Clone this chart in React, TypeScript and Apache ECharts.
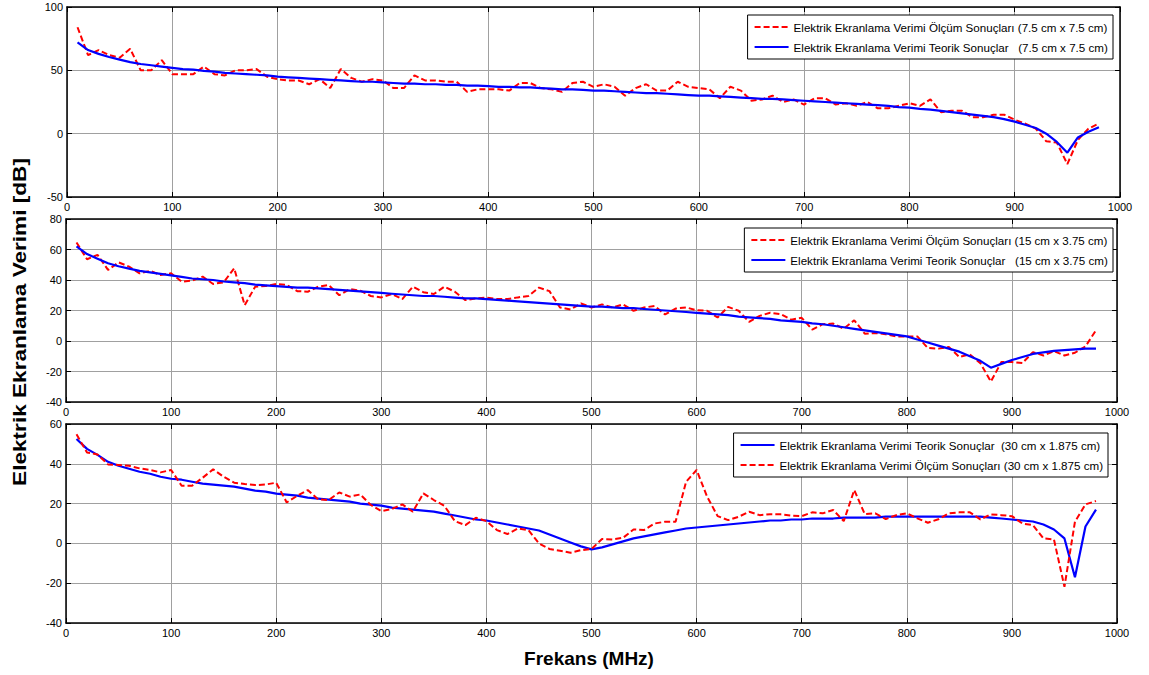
import React, { useEffect, useRef } from "react";
import * as echarts from "echarts";

const FREQ = [10, 20, 30, 40, 50, 60, 70, 80, 90, 100, 110, 120, 130, 140, 150, 160, 170, 180, 190, 200, 210, 220, 230, 240, 250, 260, 270, 280, 290, 300, 310, 320, 330, 340, 350, 360, 370, 380, 390, 400, 410, 420, 430, 440, 450, 460, 470, 480, 490, 500, 510, 520, 530, 540, 550, 560, 570, 580, 590, 600, 610, 620, 630, 640, 650, 660, 670, 680, 690, 700, 710, 720, 730, 740, 750, 760, 770, 780, 790, 800, 810, 820, 830, 840, 850, 860, 870, 880, 890, 900, 910, 920, 930, 940, 950, 960, 970, 980];

const X_TICKS = [0, 100, 200, 300, 400, 500, 600, 700, 800, 900, 1000];

// Panel 1: 7.5 cm x 7.5 cm
const MEAS_1 = [84, 62, 66, 62, 60, 67, 50, 50, 58, 47, 47, 47, 53, 47, 46, 50, 50, 51, 45, 43, 42, 42, 39, 43, 36, 51, 44, 41, 43, 42, 36, 36, 46, 42, 42, 41, 41, 33, 35, 35, 35, 34, 40, 40, 36, 35, 33, 40, 41, 37, 39, 37, 30, 36, 39, 34, 34, 41, 37, 36, 35, 28, 37, 34, 26, 27, 30, 25, 27, 23, 28, 28, 23, 24, 22, 25, 20, 20, 22, 24, 22, 27, 17, 18, 18, 13, 13, 15, 15, 11, 8, 4, -6, -7, -24, -5, 4, 8];
const THEO_1 = [72, 66, 63, 60.5, 58.5, 56.5, 55, 54, 53, 52, 51, 50.5, 49.5, 49, 48, 47.5, 47, 46.5, 46, 45, 44.5, 44, 43.5, 43, 42.5, 42, 41.5, 41, 41, 40.5, 40, 39.5, 39.5, 39, 39, 38.5, 38.5, 38, 38, 37.5, 37, 37, 36.5, 36.5, 36, 35.5, 35, 35, 34.5, 34, 34, 33.5, 33, 32.5, 32, 32, 31.5, 31, 30.5, 30, 30, 29.5, 29, 28.5, 28, 27.5, 27.5, 27, 26.5, 26, 25.5, 25, 24.5, 24, 23.5, 23, 22.5, 22, 21, 20.5, 19.5, 19, 18, 17, 16, 15, 14, 13, 11.5, 9.5, 7, 4.5, 0, -6.5, -15, -3, 1.5, 5];

// Panel 2: 15 cm x 3.75 cm
const MEAS_2 = [64.6, 53.6, 56.5, 46.6, 51.6, 48.8, 44.4, 46, 43.3, 44.4, 38.9, 39.6, 42.2, 37.4, 38.5, 47.7, 23.5, 35.6, 36, 37.4, 36.7, 32.7, 32.3, 35.6, 36.7, 30, 34, 33, 29.5, 28.6, 30.8, 27.5, 35.6, 32, 30.8, 35.6, 32.3, 26.8, 27.9, 28.4, 27.5, 27.5, 28.6, 29.5, 35, 32.7, 22, 20.7, 24.6, 22, 24, 22, 24, 19.8, 22, 22.9, 17.4, 21.3, 22, 20.2, 19.8, 15.4, 22.4, 19.8, 12.5, 16.5, 18.5, 17.6, 14, 15.2, 7.5, 11, 11.4, 8.1, 13.6, 4.8, 5.3, 4.4, 3, 3, 3, -4.6, -5, -4, -10.5, -8.8, -14.5, -26.6, -13.8, -13.8, -14.5, -7.3, -9.5, -6.6, -9.5, -7.7, -3.5, 7];
const THEO_2 = [62, 57, 54, 51, 49, 47.5, 46, 45, 44, 43, 42, 41, 40.5, 40, 39, 38.5, 38, 37, 36.5, 36, 35.5, 35, 35, 34.5, 34, 33.5, 33, 32.5, 32, 31.5, 31, 30.5, 30, 29.5, 29.5, 29, 28.5, 28, 28, 27.5, 27, 26.5, 26, 25.5, 25, 24.5, 24, 23.5, 23, 22.5, 22.5, 22, 21.5, 21.5, 21, 20.5, 20, 19.5, 19, 18.5, 18, 17.5, 17, 16, 15.5, 15, 14.5, 13.5, 13, 12.5, 11.5, 11, 10, 9, 8, 7, 6, 5, 4, 3, 1, -1, -3, -5, -7, -10, -13, -17.5, -15, -12.5, -10.5, -8.5, -7.5, -6.5, -6, -5.5, -5, -5];

// Panel 3: 30 cm x 1.875 cm
const THEO_3 = [52.5, 47.5, 44.5, 41, 39, 37.5, 36, 35, 33.5, 32.5, 32, 31, 30, 29.5, 29, 28.5, 27.5, 26.5, 26, 25, 24.5, 24, 23, 22.5, 22, 21.5, 21, 20, 19.5, 19, 18, 17.5, 17, 16.5, 16, 15, 14, 13, 12, 11.5, 10.5, 9.5, 8.5, 7.5, 6.5, 4.5, 2.5, 0.5, -1.5, -3, -2, -0.5, 1, 2.5, 3.5, 4.5, 5.5, 6.5, 7.5, 8, 8.5, 9, 9.5, 10, 10.5, 11, 11.5, 11.5, 12, 12, 12.5, 12.5, 12.5, 13, 13, 13, 13, 13.5, 13.5, 13.5, 13.5, 13.5, 13.5, 13.5, 13.5, 13.5, 13.5, 13, 12.5, 12, 11.5, 11, 9.5, 7, 2.5, -17, 8.5, 17];
const MEAS_3 = [54.8, 45.7, 44.7, 39.7, 39.4, 39, 37.7, 36.9, 35.7, 36.9, 29, 29, 33, 37.2, 33.5, 30.5, 29.8, 29.3, 29.6, 30.5, 20.6, 23.9, 26.8, 22.1, 21.8, 25.6, 23.5, 24.6, 19.3, 16.2, 17.3, 19.6, 15.9, 25.1, 21.8, 18.9, 11.2, 9.2, 12.9, 11.2, 6.7, 4.7, 7.5, 6.7, 0, -2.8, -3.7, -4.7, -3.4, -2.8, 2.2, 2, 2.8, 7, 6.7, 10, 10.9, 10.9, 31, 36.9, 23.5, 13.7, 11.7, 13.4, 15.9, 14.2, 14.7, 14.6, 14, 13.7, 15.6, 15.1, 16.8, 11.2, 26.8, 14.7, 15.1, 12.2, 14.2, 15.1, 12.6, 10.4, 12.1, 15.1, 15.6, 15.6, 12.1, 14.6, 14.2, 13.7, 10, 9.2, 2.5, 2, -21.8, 10.9, 19.6, 21.3];

const NAMES_1 = [
  "Elektrik Ekranlama Verimi Ölçüm Sonuçları (7.5 cm x 7.5 cm)",
  "Elektrik Ekranlama Verimi Teorik Sonuçlar   (7.5 cm x 7.5 cm)",
];
const NAMES_2 = [
  "Elektrik Ekranlama Verimi Ölçüm Sonuçları (15 cm x 3.75 cm)",
  "Elektrik Ekranlama Verimi Teorik Sonuçlar   (15 cm x 3.75 cm)",
];
const NAMES_3 = [
  "Elektrik Ekranlama Verimi Teorik Sonuçlar  (30 cm x 1.875 cm)",
  "Elektrik Ekranlama Verimi Ölçüm Sonuçları (30 cm x 1.875 cm)",
];

const Y_RANGES = [
  { min: -50, max: 100, interval: 50 },
  { min: -40, max: 80, interval: 20 },
  { min: -40, max: 60, interval: 20 },
];

const Y_TITLE = "Elektrik Ekranlama Verimi [dB]";
const X_TITLE = "Frekans (MHz)";

const FONT = '"Liberation Sans", Arial, Helvetica, sans-serif';

export default function App() {
  const ref = useRef<HTMLDivElement>(null);

  useEffect(() => {
    if (!ref.current) return;
    const chart = echarts.init(ref.current, null, { renderer: "svg" });

    const grids = [
      { left: 67, right: 29, top: 7, height: 190 },
      { left: 66, right: 32, top: 219, height: 183 },
      { left: 66, right: 32, top: 424, height: 199 },
    ];

    const tickFmt = (v: number) => String(v);

    const xAxes: any[] = [];
    const yAxes: any[] = [];
    grids.forEach((_, i) => {
      xAxes.push({
        type: "value",
        gridIndex: i,
        min: X_TICKS[0],
        max: X_TICKS[X_TICKS.length - 1],
        interval: 100,
        position: "bottom",
        axisLine: { show: true, onZero: false, lineStyle: { color: "#000", width: 1.5 } },
        axisTick: { show: true, inside: true, length: 5, lineStyle: { color: "#000" } },
        axisLabel: { show: true, color: "#000", fontSize: 11, fontFamily: FONT, margin: 4, formatter: tickFmt },
        splitLine: { show: true, lineStyle: { color: "#a0a0a0", width: 1 } },
      });
      xAxes.push({
        type: "value",
        gridIndex: i,
        min: X_TICKS[0],
        max: X_TICKS[X_TICKS.length - 1],
        interval: 100,
        position: "top",
        axisLine: { show: true, onZero: false, lineStyle: { color: "#000", width: 1.5 } },
        axisTick: { show: true, inside: true, length: 5, lineStyle: { color: "#000" } },
        axisLabel: { show: false },
        splitLine: { show: false },
      });
      const r = Y_RANGES[i];
      yAxes.push({
        type: "value",
        gridIndex: i,
        min: r.min,
        max: r.max,
        interval: r.interval,
        position: "left",
        axisLine: { show: true, onZero: false, lineStyle: { color: "#000", width: 1.5 } },
        axisTick: { show: true, inside: true, length: 5, lineStyle: { color: "#000" } },
        axisLabel: { show: true, color: "#000", fontSize: 11, fontFamily: FONT, margin: 4, formatter: tickFmt },
        splitLine: { show: true, lineStyle: { color: "#a0a0a0", width: 1 } },
      });
      yAxes.push({
        type: "value",
        gridIndex: i,
        min: r.min,
        max: r.max,
        interval: r.interval,
        position: "right",
        axisLine: { show: true, onZero: false, lineStyle: { color: "#000", width: 1.5 } },
        axisTick: { show: true, inside: true, length: 5, lineStyle: { color: "#000" } },
        axisLabel: { show: false },
        splitLine: { show: false },
      });
    });

    const pair = (vals: number[]) => FREQ.map((f, k) => [f, vals[k]]);
    const meas = (name: string, vals: number[], i: number, z: number) => ({
      name,
      type: "line",
      xAxisIndex: 2 * i,
      yAxisIndex: 2 * i,
      data: pair(vals),
      symbol: "none",
      showSymbol: false,
      z,
      lineStyle: { color: "#ff0000", width: 2, type: [6, 3] },
      itemStyle: { color: "#ff0000" },
    });
    const theo = (name: string, vals: number[], i: number, z: number) => ({
      name,
      type: "line",
      xAxisIndex: 2 * i,
      yAxisIndex: 2 * i,
      data: pair(vals),
      symbol: "none",
      showSymbol: false,
      z,
      lineStyle: { color: "#0000ff", width: 2.2, type: "solid" },
      itemStyle: { color: "#0000ff" },
    });

    const legendBase = {
      orient: "vertical",
      itemWidth: 34,
      itemHeight: 12,
      itemGap: 8,
      padding: [6, 5, 6, 6],
      borderColor: "#000",
      borderWidth: 1,
      backgroundColor: "#fff",
      selectedMode: false,
      itemStyle: { opacity: 0 },
      textStyle: { fontSize: 11.6, color: "#000", fontFamily: FONT },
    };

    chart.setOption({
      animation: false,
      backgroundColor: "#fff",
      grid: grids.map((g) => ({ ...g, containLabel: false })),
      xAxis: xAxes,
      yAxis: yAxes,
      legend: [
        { ...legendBase, data: NAMES_1, right: 36, top: 15 },
        { ...legendBase, data: NAMES_2, right: 36, top: 228 },
        { ...legendBase, data: NAMES_3, right: 41, top: 433 },
      ],
      series: [
        meas(NAMES_1[0], MEAS_1, 0, 2),
        theo(NAMES_1[1], THEO_1, 0, 3),
        meas(NAMES_2[0], MEAS_2, 1, 2),
        theo(NAMES_2[1], THEO_2, 1, 3),
        theo(NAMES_3[0], THEO_3, 2, 2),
        meas(NAMES_3[1], MEAS_3, 2, 3),
      ],
      graphic: [
        {
          type: "text",
          x: 19,
          y: 322,
          rotation: Math.PI / 2,
          scaleX: 1.19,
          style: {
            text: Y_TITLE,
            font: `bold 19px ${FONT}`,
            fill: "#000",
            align: "center",
            verticalAlign: "middle",
          },
        },
        {
          type: "text",
          x: 589,
          y: 658,
          style: {
            text: X_TITLE,
            font: `bold 19px ${FONT}`,
            fill: "#000",
            align: "center",
            verticalAlign: "middle",
          },
        },
      ],
    });

    return () => chart.dispose();
  }, []);

  return (
    <div
      ref={ref}
      style={{ position: "fixed", left: 0, top: 0, width: 1149, height: 675, background: "#fff" }}
    />
  );
}
